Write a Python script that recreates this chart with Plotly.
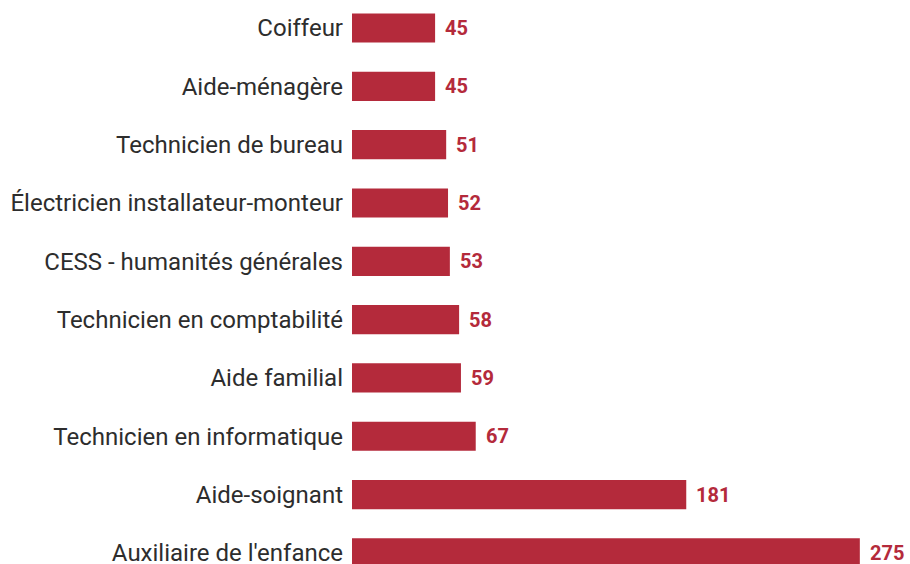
import plotly.graph_objects as go

# formations, du bas vers le haut
formations = [
    "Auxiliaire de l'enfance",
    "Aide-soignant",
    "Technicien en informatique",
    "Aide familial",
    "Technicien en comptabilité",
    "CESS - humanités générales",
    "Électricien installateur-monteur",
    "Technicien de bureau",
    "Aide-ménagère",
    "Coiffeur",
]
effectifs = [275, 181, 67, 59, 58, 53, 52, 51, 45, 45]

rouge = "#b42a3b"

fig = go.Figure(go.Bar(
    x=effectifs,
    y=formations,
    orientation="h",
    width=0.5,
    marker=dict(color=rouge, line=dict(width=0)),
    hoverinfo="skip",
))

# étiquettes de valeur à droite des barres
for f, v in zip(formations, effectifs):
    fig.add_annotation(
        x=v, y=f, xref="x", yref="y",
        text=str(v), showarrow=False,
        xanchor="left", xshift=8,
        font=dict(family="Roboto", size=20, color=rouge, weight="bold"),
    )

fig.update_layout(
    width=910, height=564,
    margin=dict(l=352, r=4, t=0, b=0),
    plot_bgcolor="white",
    paper_bgcolor="white",
    showlegend=False,
    font=dict(family="Roboto", color="#2d2d2d"),
    xaxis=dict(range=[0, 300], visible=False),
    yaxis=dict(
        range=[-0.19, 9.48],
        showgrid=False, zeroline=False, showline=False,
        ticks="", ticklabelstandoff=8,
        tickfont=dict(family="Roboto", size=24, color="#2d2d2d"),
        automargin=False,
    ),
)

fig.write_html("out.html", config={"displayModeBar": False},
               post_script="document.body.style.margin='0';")
